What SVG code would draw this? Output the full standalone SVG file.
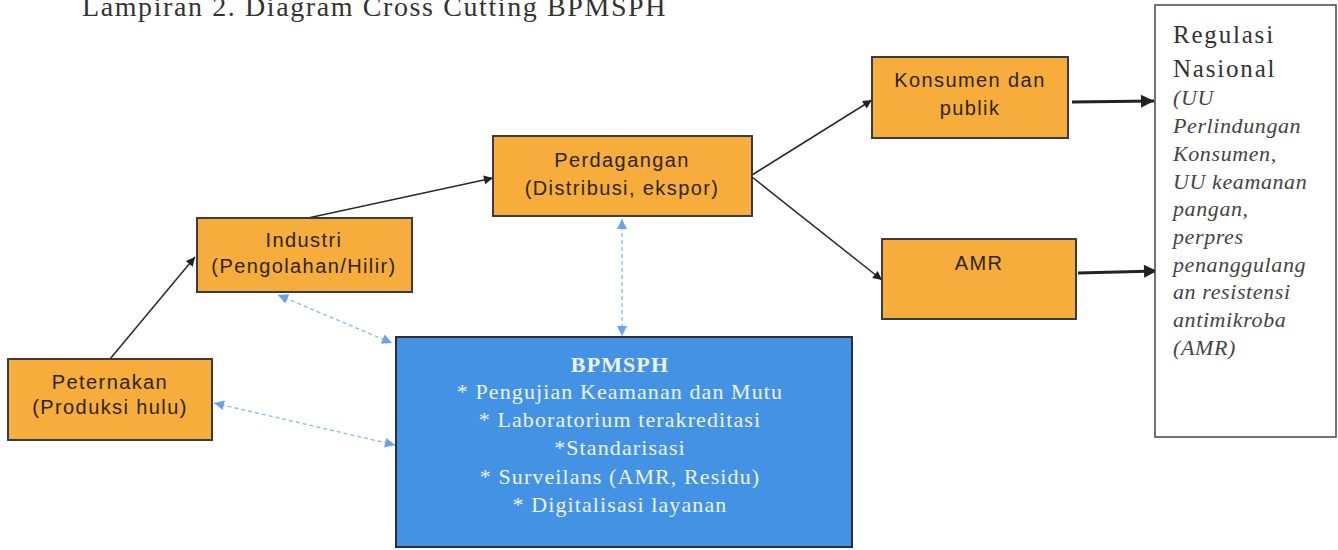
<svg xmlns="http://www.w3.org/2000/svg" width="1338" height="550" viewBox="0 0 1338 550">
<style>
.ob{fill:#f6ad3b;stroke:#3a3a48;stroke-width:2}
.ot{font-family:"Liberation Sans",Arial,sans-serif;font-size:20px;fill:#2e2412;text-anchor:middle;letter-spacing:1.4px}
.bt{font-family:"Liberation Serif","Times New Roman",serif;font-size:22px;fill:#eef4ff;text-anchor:middle;letter-spacing:1.1px}
.rt{font-family:"Liberation Serif","Times New Roman",serif;fill:#333}
.ri{font-family:"Liberation Serif","Times New Roman",serif;font-style:italic;font-size:22px;fill:#444;letter-spacing:0.6px}
.arr{stroke:#2a2a2a;stroke-width:1.5;fill:none;marker-end:url(#ah)}
.tarr{stroke:#222;stroke-width:3;fill:none;marker-end:url(#tah)}
.dash{stroke:#8ab8ee;stroke-width:1.3;stroke-dasharray:4 3;fill:none;marker-start:url(#bah);marker-end:url(#bah)}
</style>
<defs>
<marker id="ah" viewBox="0 0 10 10" refX="10" refY="5" markerWidth="12" markerHeight="9" markerUnits="userSpaceOnUse" orient="auto"><path d="M0,0 L10,5 L0,10 z" fill="#222"/></marker>
<marker id="tah" viewBox="0 0 10 10" refX="10" refY="5" markerWidth="16" markerHeight="13" markerUnits="userSpaceOnUse" orient="auto"><path d="M0,0 L10,5 L0,10 z" fill="#222"/></marker>
<marker id="bah" viewBox="0 0 10 10" refX="10" refY="5" markerWidth="11" markerHeight="10" markerUnits="userSpaceOnUse" orient="auto-start-reverse"><path d="M0,0 L10,5 L0,10 z" fill="#6aa3e8"/></marker>
</defs>

<text x="82" y="16" class="rt" font-size="28" letter-spacing="1.6">Lampiran 2. Diagram Cross Cutting BPMSPH</text>

<g id="connectors">
<line class="arr" x1="110" y1="359" x2="195" y2="257"/>
<line class="arr" x1="308" y1="218" x2="493" y2="178"/>
<line class="arr" x1="752" y1="175" x2="872" y2="100"/>
<line class="arr" x1="752" y1="177" x2="882" y2="280"/>
<line class="tarr" x1="1072" y1="102" x2="1154" y2="101"/>
<line class="tarr" x1="1078" y1="273" x2="1157" y2="271"/>
<line class="dash" x1="278" y1="295" x2="392" y2="343"/>
<line class="dash" x1="214" y1="403" x2="395" y2="445"/>
<line class="dash" x1="622" y1="219" x2="622" y2="336"/>
</g>

<g id="peternakan">
<rect class="ob" x="8" y="359" width="204" height="81"/>
<text class="ot" x="110" y="389">Peternakan</text>
<text class="ot" x="110" y="414">(Produksi hulu)</text>
</g>

<g id="industri">
<rect class="ob" x="197" y="218" width="215" height="74"/>
<text class="ot" x="304" y="247">Industri</text>
<text class="ot" x="304" y="273">(Pengolahan/Hilir)</text>
</g>

<g id="perdagangan">
<rect class="ob" x="493" y="136" width="259" height="80"/>
<text class="ot" x="622" y="167">Perdagangan</text>
<text class="ot" x="622" y="195">(Distribusi, ekspor)</text>
</g>

<g id="konsumen">
<rect class="ob" x="872" y="57" width="196" height="81"/>
<text class="ot" x="970" y="87">Konsumen dan</text>
<text class="ot" x="970" y="115">publik</text>
</g>

<g id="amr">
<rect class="ob" x="882" y="239" width="194" height="80"/>
<text class="ot" x="979" y="270">AMR</text>
</g>

<g id="bpmsph">
<rect x="396" y="337" width="456" height="210" fill="#4392e3" stroke="#2a2f3a" stroke-width="2"/>
<text class="bt" x="620" y="372" font-weight="bold" font-size="23" letter-spacing="3.5">BPMSPH</text>
<text class="bt" x="620" y="399">* Pengujian Keamanan dan Mutu</text>
<text class="bt" x="620" y="427">* Laboratorium terakreditasi</text>
<text class="bt" x="620" y="455">*Standarisasi</text>
<text class="bt" x="620" y="484">* Surveilans (AMR, Residu)</text>
<text class="bt" x="620" y="512">* Digitalisasi layanan</text>
</g>

<g id="regulasi">
<rect x="1155" y="5" width="181" height="432" fill="#fff" stroke="#444" stroke-width="1.5"/>
<text class="rt" x="1173" y="43" font-size="25" letter-spacing="1.8">Regulasi</text>
<text class="rt" x="1173" y="77" font-size="25" letter-spacing="1.8">Nasional</text>
<text class="ri" x="1173" y="105">(UU</text>
<text class="ri" x="1173" y="133">Perlindungan</text>
<text class="ri" x="1173" y="161">Konsumen,</text>
<text class="ri" x="1173" y="189">UU keamanan</text>
<text class="ri" x="1173" y="216">pangan,</text>
<text class="ri" x="1173" y="244">perpres</text>
<text class="ri" x="1173" y="272">penanggulang</text>
<text class="ri" x="1173" y="299">an resistensi</text>
<text class="ri" x="1173" y="327">antimikroba</text>
<text class="ri" x="1173" y="355">(AMR)</text>
</g>
</svg>
